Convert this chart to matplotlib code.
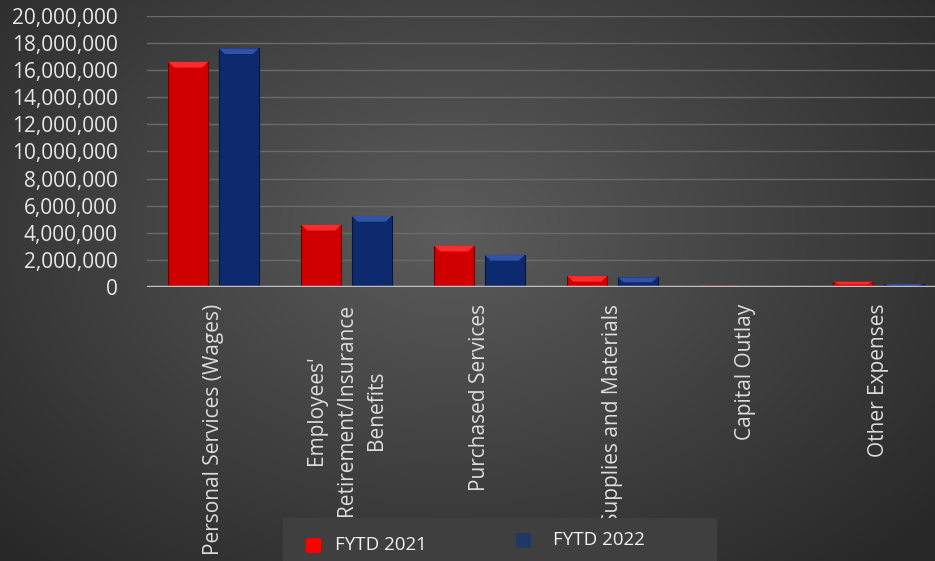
import numpy as np
import matplotlib
matplotlib.use("Agg")
import matplotlib.pyplot as plt
from matplotlib.patches import FancyBboxPatch, Rectangle, Polygon
from matplotlib.ticker import FuncFormatter

# Dane
categories = [
    "Personal Services (Wages)",
    "Employees'\nRetirement/Insurance\nBenefits",
    "Purchased Services",
    "Supplies and Materials",
    "Capital Outlay",
    "Other Expenses",
]
fytd_2021 = [16_600_000, 4_600_000, 3_060_000, 830_000, 120_000, 410_000]
fytd_2022 = [17_600_000, 5_250_000, 2_380_000, 740_000, 50_000, 240_000]
series_names = ["FYTD 2021", "FYTD 2022"]
yticks = list(range(0, 20_000_001, 2_000_000))

FONT = ["Open Sans", "DejaVu Sans"]
plt.rcParams["font.family"] = FONT

W, H = 935, 561
fig = plt.figure(figsize=(W / 100, H / 100), dpi=100)

# tło - gradient radialny
bg = fig.add_axes([0, 0, 1, 1], zorder=-10)
yy, xx = np.mgrid[0:H, 0:W]
r = np.sqrt(((xx - 450) / 600) ** 2 + ((yy - 230) / 420) ** 2)
shade = np.clip(0.36 - 0.19 * r, 0.16, 0.36)
bg.imshow(np.dstack([shade] * 3), aspect="auto", extent=[0, 1, 0, 1])
bg.set_axis_off()

ax = fig.add_axes([147 / W, (H - 287.3) / H, 6 * 133 / W, (287.3 - 15.7) / H])
ax.set_facecolor("none")

x = np.arange(len(categories))
width = 0.30
off = 0.19
bars1 = ax.bar(x - off, fytd_2021, width, color="#d00000", edgecolor="#6a0000", linewidth=0.8, zorder=3)
bars2 = ax.bar(x + off, fytd_2022, width, color="#0e2a6e", edgecolor="#05163d", linewidth=0.8, zorder=3)

# efekt skosu na górze słupków
cap_h = 420_000
inset = 0.045
for bars, light in ((bars1, "#ff2a2a"), (bars2, "#3053a8")):
    for b in bars:
        h = b.get_height()
        ch = min(cap_h, h * 0.5)
        x0, w = b.get_x(), b.get_width()
        ax.add_patch(Polygon([(x0, h), (x0 + w, h), (x0 + w - inset, h - ch), (x0 + inset, h - ch)],
                             closed=True, facecolor=light, edgecolor="none", zorder=4))

ax.set_xlim(-0.5, 5.5)
ax.set_ylim(0, 20_000_000)
ax.set_yticks(yticks)
ax.yaxis.set_major_formatter(FuncFormatter(lambda v, p: f"{int(v):,}"))
ax.grid(axis="y", color="#6a6a6a", linewidth=1.0, zorder=0)
ax.axhline(0, color="#c0c0c0", linewidth=2.5, zorder=5)
for s in ax.spines.values():
    s.set_visible(False)
ax.tick_params(axis="y", length=0, pad=21, labelsize=15, labelcolor="#e6e6e6")
ax.tick_params(axis="x", length=0)
ax.set_xticks(x)
ax.set_xticklabels([])

# etykiety kategorii
for xi, lab in zip(x, categories):
    ax.annotate(lab, xy=(xi, 0), xycoords=("data", "axes fraction"),
                xytext=(0, -12), textcoords="offset points",
                rotation=90, ha="center", va="top", multialignment="center",
                fontsize=15, color="#dcdcdc", linespacing=1.55, zorder=1)

# legenda
fig.patches.append(Rectangle((283 / W, 0), (717 - 283) / W, 43 / H,
                             transform=fig.transFigure, facecolor="#3f3f3f",
                             edgecolor="none", zorder=20))
fig.patches.append(FancyBboxPatch((306 / W, (H - 553) / H), 15 / W, 15 / H,
                                  boxstyle="round,pad=0,rounding_size=0.003",
                                  transform=fig.transFigure, facecolor="#ff0000",
                                  edgecolor="none", zorder=21))
fig.patches.append(FancyBboxPatch((516 / W, (H - 548) / H), 15 / W, 15 / H,
                                  boxstyle="round,pad=0,rounding_size=0.003",
                                  transform=fig.transFigure, facecolor="#1f3864",
                                  edgecolor="none", zorder=21))
fig.text(335 / W, (H - 545) / H, series_names[0], fontsize=13.5, color="#f0f0f0",
         va="center", ha="left", zorder=22)
fig.text(553 / W, (H - 540) / H, series_names[1], fontsize=13.5, color="#f0f0f0",
         va="center", ha="left", zorder=22)

fig.savefig("out.png", dpi=100)
